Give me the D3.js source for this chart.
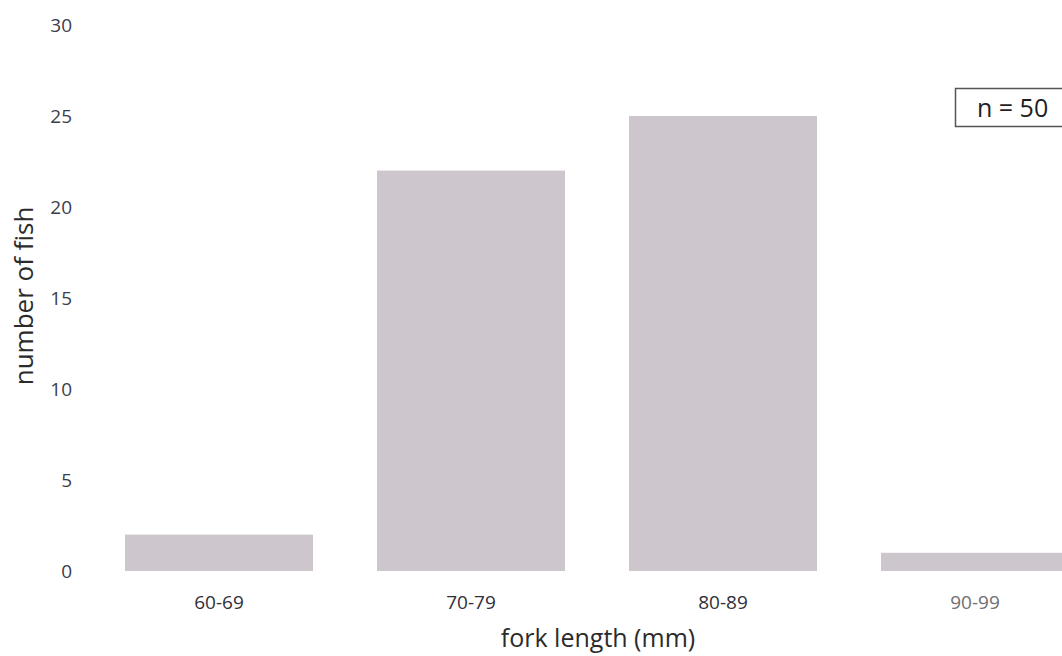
<!DOCTYPE html>
<html><head><meta charset="utf-8">
<script src="https://cdn.jsdelivr.net/npm/d3@7"></script>
<style>body{margin:0;background:#fff;} svg{display:block;}</style>
</head><body>
<svg id="chart" width="1062" height="656"></svg>
<script>
const categories = ["60-69", "70-79", "80-89", "90-99"];
const counts = [2, 22, 25, 1];
const yTicks = [0, 5, 10, 15, 20, 25, 30];
const xTitle = "fork length (mm)";
const yTitle = "number of fish";
const note = "n = 50";

const svg = d3.select("#chart");
const font = "'Open Sans', 'Noto Sans', sans-serif";

const x = d3.scaleBand().domain(categories).range([93, 1101])
  .paddingInner(0.254).paddingOuter(0.127);
const y = d3.scaleLinear().domain([0, 30]).range([571, 25]);

svg.selectAll("rect.bar").data(counts).join("rect")
  .attr("class", "bar")
  .attr("x", (d, i) => x(categories[i]))
  .attr("width", x.bandwidth())
  .attr("y", d => y(d))
  .attr("height", d => y(0) - y(d))
  .attr("fill", "#cdc6cd");

// y axis
const yAxis = d3.axisLeft(y).tickValues(yTicks).tickSize(0).tickPadding(0);
const gy = svg.append("g").attr("transform", "translate(72,0)").call(yAxis);
gy.select(".domain").remove();
gy.selectAll("text").attr("font-family", font).attr("font-size", 19)
  .attr("fill", "#3d3d4a");

// x axis
const xAxis = d3.axisBottom(x).tickSize(0).tickPadding(0);
const gx = svg.append("g").attr("transform", "translate(0,595)").call(xAxis);
gx.select(".domain").remove();
gx.selectAll("text").attr("font-family", font).attr("font-size", 19)
  .attr("fill", (d, i) => i === 3 ? "#6e6e72" : "#2f2f38");

svg.append("text").attr("x", 598).attr("y", 647).attr("text-anchor", "middle")
  .attr("font-family", font).attr("font-size", 25).attr("fill", "#2b2b2b").text(xTitle);

svg.append("text").attr("transform", "translate(33,296) rotate(-90)")
  .attr("text-anchor", "middle").attr("font-family", font).attr("font-size", 26)
  .attr("fill", "#2b2b2b").text(yTitle);

svg.append("rect").attr("x", 955.5).attr("y", 88.5).attr("width", 140).attr("height", 38)
  .attr("fill", "#fff").attr("stroke", "#555").attr("stroke-width", 1.5);
svg.append("text").attr("x", 977).attr("y", 117)
  .attr("font-family", font).attr("font-size", 25).attr("fill", "#1e1e1e").text(note);
</script>
</body></html>
